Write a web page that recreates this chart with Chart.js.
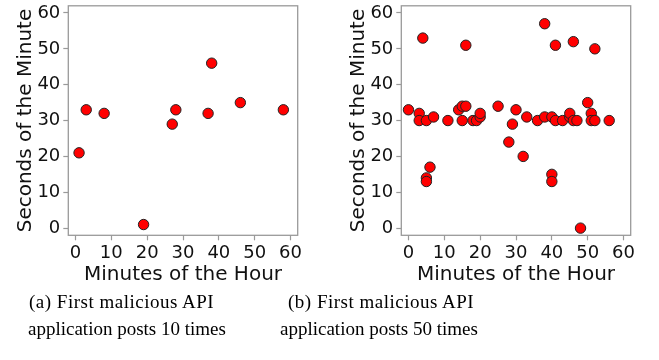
<!DOCTYPE html>
<html>
<head>
<meta charset="utf-8">
<script src="https://cdn.jsdelivr.net/npm/chart.js@4"></script>
<style>
  html, body { margin: 0; padding: 0; background: #ffffff; }
  body { width: 659px; height: 360px; position: relative; overflow: hidden; }
  .panel { position: absolute; top: -8px; width: 330px; height: 300px; }
  .cap {
    position: absolute; white-space: nowrap;
    font-family: "Liberation Serif", "Times New Roman", serif;
    font-size: 19px; line-height: 27px; color: #000;
  }
</style>
</head>
<body>
<div class="panel" style="left:0px"><canvas id="chartA" width="330" height="300"></canvas></div>
<div class="panel" style="left:333px"><canvas id="chartB" width="330" height="300"></canvas></div>
<div class="cap" style="left:29px; top:288px; letter-spacing:0.5px">(a) First malicious API</div>
<div class="cap" style="left:28px; top:315px">application posts 10 times</div>
<div class="cap" style="left:288px; top:288px; letter-spacing:0.5px">(b) First malicious API</div>
<div class="cap" style="left:280px; top:315px">application posts 50 times</div>
<script>
// Axis ticks shared by both panels
const minuteTicks = [0, 10, 20, 30, 40, 50, 60];
const secondTicks = [0, 10, 20, 30, 40, 50, 60];

// (a) application posting 10 times: minute of the hour and second of the minute per post
const postsMinuteA = [1, 3, 8, 19, 27, 28, 37, 38, 46, 58];
const postsSecondA = [21, 33, 32, 1, 29, 33, 32, 46, 35, 33];

// (b) application posting 50 times
const postsMinuteB = [0, 3, 3, 4, 5, 5, 5, 6, 7, 11, 14, 15, 15, 16, 16, 18, 19, 20, 20, 25,
                      28, 29, 30, 32, 33, 36, 38, 38, 40, 40, 40, 41, 41, 43, 45, 45, 46, 46, 47, 48,
                      50, 51, 51, 52, 52, 56];
const postsSecondB = [33, 32, 30, 53, 30, 14, 13, 17, 31, 30, 33, 34, 30, 34, 51, 30, 30, 31, 32, 34,
                      24, 29, 33, 20, 31, 30, 57, 31, 31, 15, 13, 51, 30, 30, 31, 32, 52, 30, 30, 0,
                      35, 32, 30, 50, 30, 30];

const AXIS_GRAY = '#9a9a9a';
const TEXT = '#111111';
const TICK_FONT = { family: '"DejaVu Sans", sans-serif', size: 18 };
const TITLE_FONT = { family: '"DejaVu Sans", sans-serif', size: 20 };

// Draws the full rectangular frame around the plotting area
const framePlugin = {
  id: 'frame',
  afterDatasetsDraw(chart) {
    const { ctx, chartArea: a } = chart;
    ctx.save();
    ctx.strokeStyle = AXIS_GRAY;
    ctx.lineWidth = 1.3;
    ctx.strokeRect(a.left, a.top, a.right - a.left, a.bottom - a.top);
    ctx.restore();
  }
};

function makeChart(id, xs, ys) {
  const points = xs.map((x, i) => ({ x: x, y: ys[i] }));
  return new Chart(document.getElementById(id), {
    type: 'scatter',
    data: {
      datasets: [{
        data: points,
        backgroundColor: '#ff0000',
        borderColor: '#222222',
        borderWidth: 1,
        pointRadius: 5.2,
        pointHoverRadius: 5.2
      }]
    },
    options: {
      responsive: false,
      animation: false,
      events: [],
      layout: { padding: { left: 0, top: 13.7, right: 32.3, bottom: 0 } },
      plugins: { legend: { display: false }, tooltip: { enabled: false } },
      scales: {
        x: {
          type: 'linear',
          min: -2, max: 62,
          afterBuildTicks(scale) { scale.ticks = minuteTicks.map(v => ({ value: v })); },
          afterFit(scale) { scale.height = 56.7; },
          grid: { display: true, drawOnChartArea: false, drawTicks: true, tickLength: 5, tickColor: AXIS_GRAY, tickWidth: 1.2 },
          border: { display: false },
          ticks: { color: TEXT, font: TICK_FONT, padding: 2, maxRotation: 0 },
          title: { display: true, text: 'Minutes of the Hour', color: TEXT, font: TITLE_FONT, padding: { top: 0, bottom: 5 } }
        },
        y: {
          type: 'linear',
          min: -2, max: 62,
          afterBuildTicks(scale) { scale.ticks = secondTicks.map(v => ({ value: v })); },
          afterFit(scale) { scale.width = 68.3; },
          grid: { display: true, drawOnChartArea: false, drawTicks: true, tickLength: 5, tickColor: AXIS_GRAY, tickWidth: 1.2 },
          border: { display: false },
          ticks: { color: TEXT, font: TICK_FONT, padding: 3 },
          title: { display: true, text: 'Seconds of the Minute', color: TEXT, font: TITLE_FONT, padding: { top: 14, bottom: 0 } }
        }
      }
    },
    plugins: [framePlugin]
  });
}

makeChart('chartA', postsMinuteA, postsSecondA);
makeChart('chartB', postsMinuteB, postsSecondB);
</script>
</body>
</html>
